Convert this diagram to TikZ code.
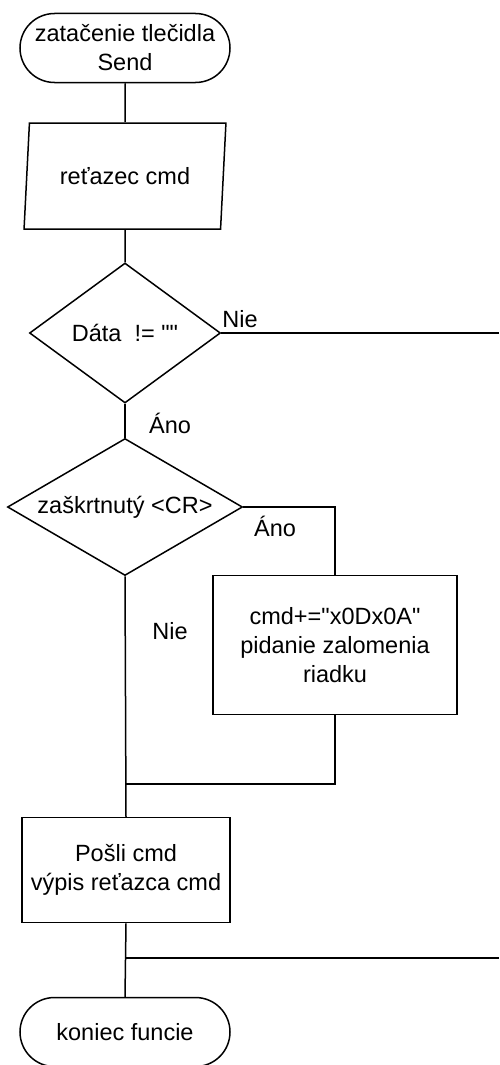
\documentclass[tikz,border=0pt]{standalone}
\usepackage{fontspec}
\setmainfont{Liberation Sans}[Ligatures=TeXOff]
\usetikzlibrary{shapes.geometric,shapes.misc}

\begin{document}
\begin{tikzpicture}[x=1pt, y=-1pt, line width=1.5pt,
  every node/.style={font=\fontsize{23.5}{29}\selectfont},
  term/.style={draw, rounded rectangle, minimum width=210pt, minimum height=69pt, inner sep=0pt, align=center},
  io/.style={draw, trapezium, trapezium left angle=78, trapezium right angle=102, trapezium stretches=true, minimum width=202pt, minimum height=106pt, inner sep=0pt},
  decision/.style={draw, diamond, aspect=1.7, inner sep=0pt},
  proc/.style={draw, rectangle, align=center, inner sep=0pt},
  lbl/.style={inner sep=0pt}]

\useasboundingbox (0,0) rectangle (499,1065);

% start
\node[term] (start) at (125,48) {zatačenie tlečidla\\Send};

% input
\node[io] (cmd) at (125,176) {reťazec cmd};

% conditions
\node[decision, minimum width=191pt, minimum height=140pt] (data) at (125,333) {Dáta\ \ != ""};
\node[decision, minimum width=235pt, minimum height=137pt] (cr) at (125,507) {zaškrtnutý <CR>};

% processes
\node[proc, minimum width=244pt, minimum height=139pt] (add) at (335,645) {cmd+="x0Dx0A"\\pidanie zalomenia\\riadku};
\node[proc, minimum width=208pt, minimum height=105pt] (send) at (126,870) {Pošli cmd\\výpis reťazca cmd};

% end
\node[term] (stop) at (125,1032) {koniec funcie};

% free ends
\coordinate (nieout) at (499,333);
\coordinate (join) at (125,784);
\coordinate (split) at (125,958);
\coordinate (splitout) at (499,958);

% connectors
\draw (start.south) -- (cmd.north);
\draw (cmd.south) -- (data.north);
\draw (data.east) -- (nieout);
\draw (data.south) -- (cr.north);
\draw (cr.east) -| (add.north);
\draw (cr.south) -- (send.north);
\draw (add.south) |- (join);
\draw (send.south) -- (stop.north);
\draw (split) -- (splitout);

% labels
\node[lbl] (nie1) at (240,319) {Nie};
\node[lbl] (ano1) at (170,423) {Áno};
\node[lbl] (ano2) at (275,526) {Áno};
\node[lbl] (nie2) at (170,631) {Nie};

\end{tikzpicture}
\end{document}
